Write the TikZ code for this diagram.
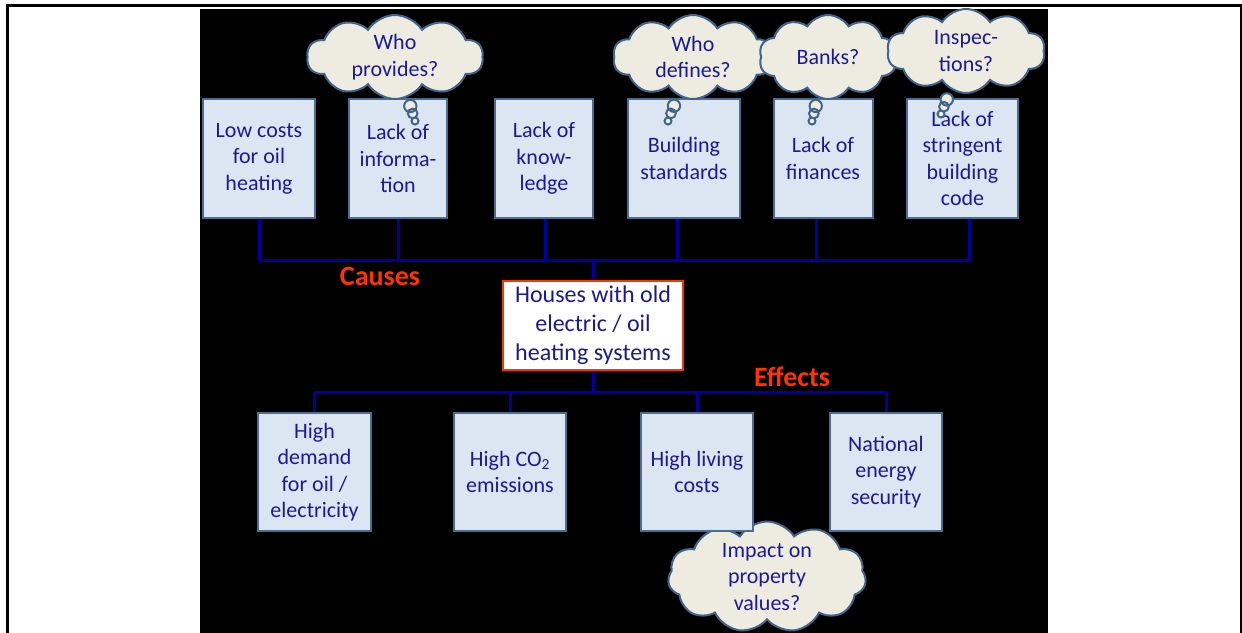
\documentclass[tikz,border=0pt]{standalone}
\usepackage{fontspec}
\setmainfont{Carlito}
\usetikzlibrary{shapes.symbols,shapes.callouts}
\definecolor{navy}{HTML}{1A1A96}
\definecolor{boxfill}{HTML}{DCE6F2}
\definecolor{boxedge}{HTML}{4A6E93}
\definecolor{wireblue}{HTML}{00009C}
\definecolor{hot}{HTML}{FF3300}
\definecolor{puff}{HTML}{EEECE1}
\definecolor{puffedge}{HTML}{41648A}
\tikzset{
  blk/.style={draw=boxedge,fill=boxfill,line width=2pt,text=navy,align=center,
    inner sep=1pt,font=\fontsize{22}{26.5}\selectfont},
  hub/.style={draw=hot,fill=white,line width=2pt,text=navy,align=center,
    minimum width=180pt,minimum height=89pt,inner sep=1pt,font=\fontsize{24}{29}\selectfont},
  tag/.style={text=hot,font=\fontsize{28}{30}\selectfont\bfseries},
  wire/.style={draw=wireblue,line width=3pt},
  thought/.style={cloud callout,cloud puffs=10,cloud puff arc=115,cloud ignores aspect,
    draw=puffedge,fill=puff,line width=2pt,text=navy,align=center,inner sep=0pt,
    callout pointer segments=3,callout pointer start size=15pt,callout pointer end size=7pt,
    font=\fontsize{22}{26.5}\selectfont},
  puffy/.style={cloud,cloud puffs=11,cloud puff arc=115,cloud ignores aspect,
    draw=puffedge,fill=puff,line width=2pt,text=navy,align=center,inner sep=0pt,
    font=\fontsize{22}{26.5}\selectfont}
}
\begin{document}
\begin{tikzpicture}[x=1pt,y=-1pt]
\useasboundingbox(0,0)rectangle(1242,632);
% frame and slide
\draw[line width=3pt](7.5,640)--(7.5,5.5)--(1242,5.5);
\draw[line width=2pt](1241,5)--(1241,640);
\fill(200,9)rectangle(1048,640);
% causes
\node[blk,minimum width=112pt,minimum height=119pt](c1)at(259,158.5){Low costs\\for oil\\heating};
\node[blk,minimum width=98pt,minimum height=119pt](c2)at(398,158.5){Lack of\\informa-\\tion};
\node[blk,minimum width=98pt,minimum height=119pt](c3)at(544,158.5){Lack of\\know-\\ledge};
\node[blk,minimum width=112pt,minimum height=119pt](c4)at(684,158.5){Building\\standards};
\node[blk,minimum width=99pt,minimum height=119pt](c5)at(823,158.5){Lack of\\finances};
\node[blk,minimum width=111pt,minimum height=119pt](c6)at(962.5,158.5){Lack of\\stringent\\building\\code};
% problem
\node[hub](h)at(593,325.5){Houses with old\\electric / oil\\heating systems};
\coordinate(top)at(593,260);
\coordinate(bot)at(593,392);
\foreach \n/\dx in {c1/0,c2/0,c3/1,c4/-7,c5/-7,c6/7}
  \draw[wire]([xshift=\dx pt]\n.south)--([xshift=\dx pt]\n.south|-top);
\draw[wire,line cap=round](c1.south|-top)--([xshift=7pt]c6.south|-top);
\draw[wire](h.north)--(top);
\draw[wire](h.south)--(bot);
\node[tag](cs)at(380,276){Causes};
\node[tag](ef)at(792,377){Effects};
% effects
\node[puffy,minimum width=198pt,minimum height=104pt](q5)at(767,577){Impact on\\property\\values?};
\node[blk,minimum width=113pt,minimum height=118pt](e1)at(314.5,472){High\\demand\\for oil /\\electricity};
\node[blk,minimum width=112pt,minimum height=118pt](e2)at(510,472){High CO\textsubscript{2}\\emissions};
\node[blk,minimum width=112pt,minimum height=118pt](e3)at(697,472){High living\\costs};
\node[blk,minimum width=112pt,minimum height=118pt](e4)at(886,472){National\\energy\\security};
\draw[wire,line cap=round](e1.north|-bot)--(e4.north|-bot);
\foreach \n in {e1,e2,e3,e4}\draw[wire](\n.north)--(\n.north|-bot);
% questions
\node[thought,minimum width=176pt,minimum height=84pt,callout absolute pointer={(415,121)}](q1)at(395,57){Who\\provides?};
\node[thought,minimum width=160pt,minimum height=84pt,callout absolute pointer={(668,121)}](q2)at(693,57){Who\\defines?};
\node[thought,minimum width=138pt,minimum height=84pt,callout absolute pointer={(812,121)}](q3)at(828,57){Banks?};
\node[thought,minimum width=158pt,minimum height=84pt,callout absolute pointer={(941,114)}](q4)at(966,51){Inspec-\\tions?};
\end{tikzpicture}
\end{document}
